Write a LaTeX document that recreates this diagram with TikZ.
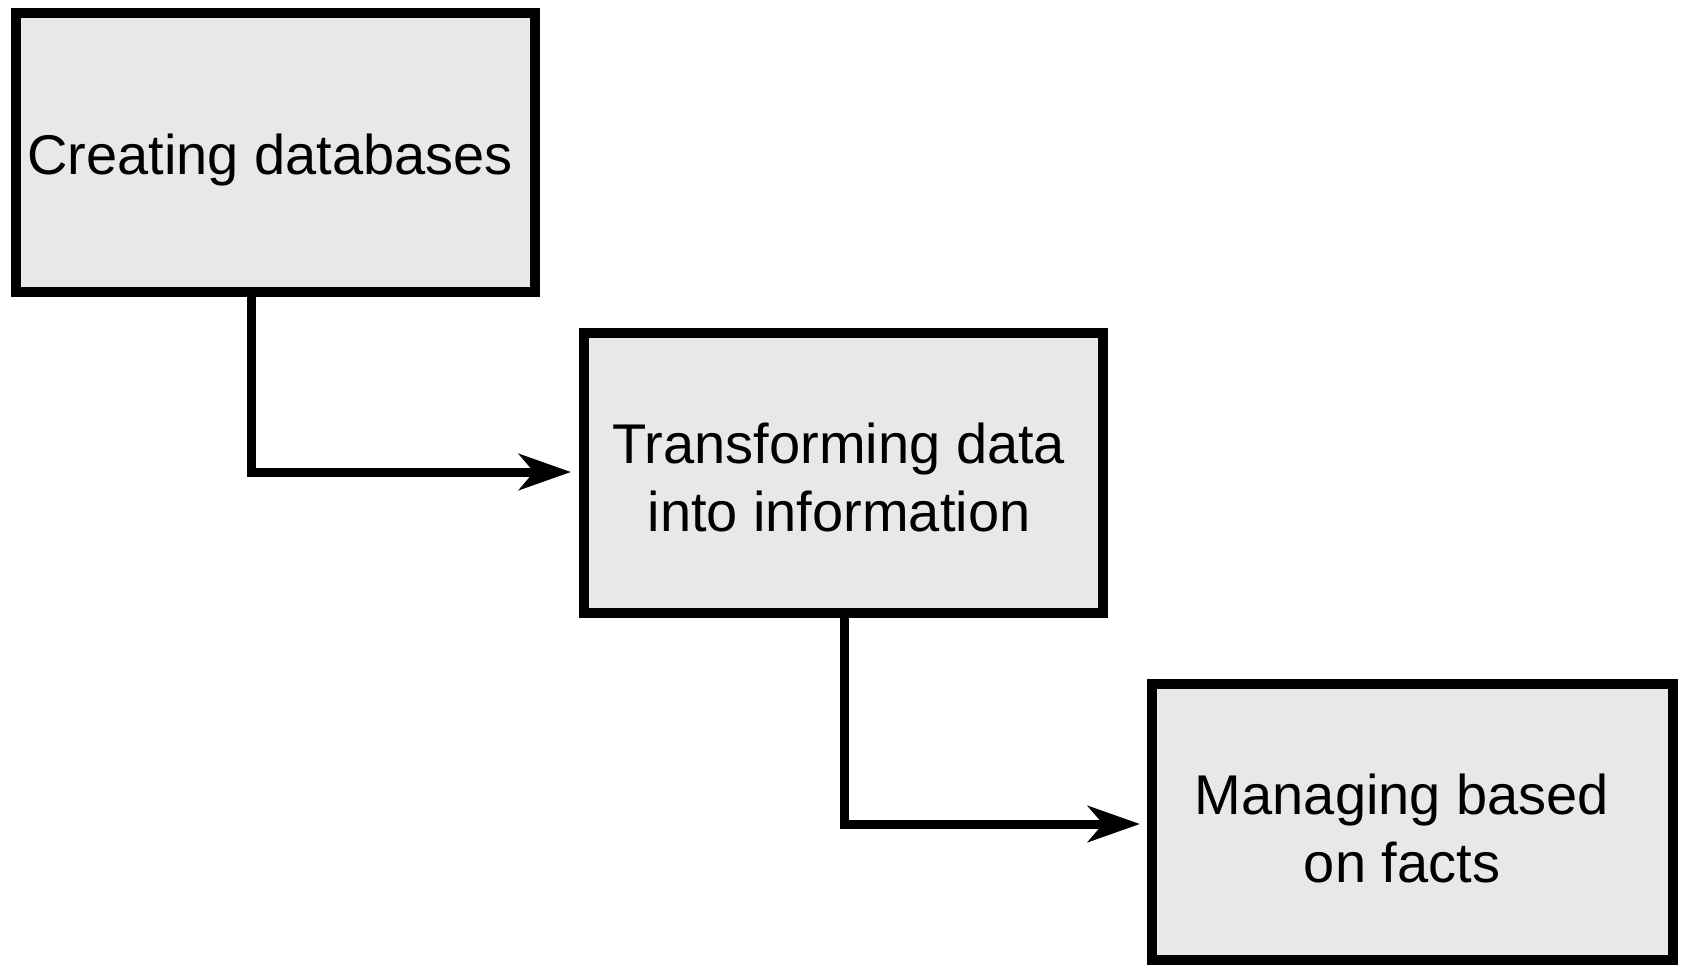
\documentclass[tikz,border=0pt]{standalone}
\usepackage{fontspec}
\setmainfont{Liberation Sans}
\usetikzlibrary{arrows.meta}
\definecolor{boxfill}{HTML}{E8E8E8}
\begin{document}
\begin{tikzpicture}[x=1pt,y=-1pt,
  stepbox/.style={draw=black, line width=10pt, fill=boxfill},
  steptext/.style={align=center, font=\fontsize{56}{68}\selectfont, inner sep=0pt, outer sep=0pt},
  conn/.style={line width=9pt, -{Stealth[length=52pt,width=36pt,inset=15pt]}}]
\useasboundingbox (0,0) rectangle (1683,967);
\path[stepbox] (16,13) rectangle (535,292);
\coordinate (b1s) at (275.5,292);
\node (b1) [steptext] at (270,160) {Creating databases};
\path[stepbox] (584,333) rectangle (1103,613);
\coordinate (b2w) at (584,473);
\coordinate (b2s) at (843.5,613);
\node (b2) [steptext] at (839,477) {Transforming data\\into information};
\path[stepbox] (1152,684) rectangle (1673,960);
\coordinate (b3w) at (1152,822);
\node (b3) [steptext] at (1402,828) {Managing based\\on facts};
\coordinate (c1) at (251,472);
\coordinate (c2) at (844,824);
\draw[conn] (b1s -| c1) |- ([xshift=-13pt]b2w |- c1);
\draw[conn] (b2s -| c2) |- ([xshift=-12pt]b3w |- c2);
\end{tikzpicture}
\end{document}
